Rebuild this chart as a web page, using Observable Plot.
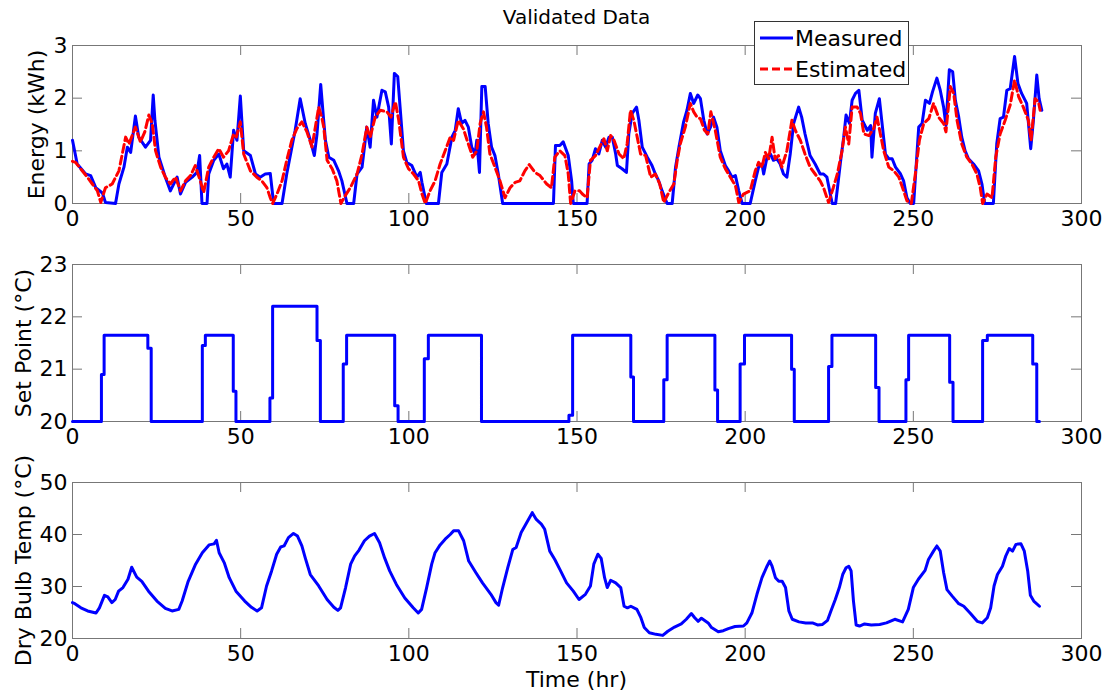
<!DOCTYPE html>
<html><head><meta charset="utf-8">
<script src="https://cdn.jsdelivr.net/npm/d3@7"></script>
<script src="https://cdn.jsdelivr.net/npm/@observablehq/plot@0.6"></script>
<style>
body{margin:0;background:#fff;}
#fig{position:relative;width:1110px;height:694px;font-family:"DejaVu Sans",sans-serif;color:#000;overflow:hidden;background:#fff;}
.panel{position:absolute;left:0;}
#title{position:absolute;left:0;width:1153px;top:5px;text-align:center;font-size:20px;}
#xlab{position:absolute;left:0;width:1153px;top:667px;text-align:center;font-size:22px;}
#legend{position:absolute;left:754px;top:21px;width:153px;height:62px;border:1px solid #333;background:#fff;font-size:22px;z-index:5;}
.lrow{position:absolute;left:4px;height:28px;display:flex;align-items:center;}
.lrow span{margin-left:2px;}
</style></head><body><div id="fig">
<div id="title">Validated Data</div>
<div id="xlab">Time (hr)</div>
<div id="legend">
<div class="lrow" style="top:2px"><svg width="34" height="10"><line x1="1" y1="5" x2="34" y2="5" stroke="#0000ff" stroke-width="3"/></svg><span>Measured</span></div>
<div class="lrow" style="top:33px"><svg width="34" height="10"><line x1="1" y1="5" x2="34" y2="5" stroke="#ff0000" stroke-width="3" stroke-dasharray="8,4"/></svg><span>Estimated</span></div>
</div>
</div>
<script>
const xTicks = [0, 50, 100, 150, 200, 250, 300];
const energyTicks = [0, 1, 2, 3];
const setTicks = [20, 21, 22, 23];
const tempTicks = [20, 30, 40, 50];

// [time (hr), energy (kWh)]
const measured = [[0,1.2],[1.4,0.75],[3.9,0.56],[5.4,0.53],[6.9,0.3],[8.9,0.2],[9.8,0.02],[12.8,0],[13.8,0.37],[15.3,0.69],[16.3,1.07],[17.3,0.97],[18.7,1.66],[19.7,1.26],[21.7,1.07],[23.2,1.2],[24,2.06],[24.5,1.58],[25.7,0.88],[27.6,0.5],[29.1,0.24],[31.1,0.5],[32.1,0.18],[33.6,0.4],[35.6,0.5],[37,0.59],[37.8,0.91],[38.5,0],[40,0],[40.5,0.56],[42,0.82],[43.5,0.94],[44.9,0.66],[45.9,0.75],[46.9,0.5],[47.9,1.39],[48.9,1.2],[49.9,2.04],[50.9,1.0],[52.9,0.91],[54.4,0.56],[55.8,0.5],[57.3,0.56],[58.8,0.57],[59.8,0],[62.3,0],[63.7,0.56],[66.2,1.39],[67.7,1.99],[69.2,1.52],[70.7,1.2],[71.9,0.91],[72.7,1.32],[73.8,2.26],[74.6,1.64],[75.2,1.2],[76.2,0.88],[77.7,0.82],[79.1,0.62],[80.1,0.43],[81.6,0],[83.6,0],[84.6,0.56],[86.1,0.69],[87.5,1.45],[88.5,1.07],[89.5,1.96],[90.5,1.64],[92,2.15],[93,2.12],[94,1.83],[94.8,1.13],[95.7,2.47],[96.7,2.41],[97.4,1.83],[98.4,1.0],[99.4,0.78],[100.9,0.72],[102.4,0.5],[103.4,0.59],[103.9,0.4],[105.2,0],[108.8,0],[109.8,0.59],[111.3,0.75],[112.8,1.26],[113.8,1.39],[114.7,1.8],[115.7,1.52],[116.7,1.58],[117.7,1.45],[118.7,1.07],[119.7,0.94],[120.2,1.2],[121,0.59],[121.7,2.22],[122.7,2.22],[123.6,1.52],[124.6,1.07],[125.6,0.91],[126.6,0.56],[127.9,0],[143,0],[143.6,1.1],[144.9,1.1],[145.9,1.17],[147.4,0.91],[148.4,0.43],[148.9,0],[153,0],[153.6,0.75],[154.5,0.82],[155.5,1.04],[156.5,0.94],[157.5,1.2],[158.5,1.07],[159.5,1.26],[160.5,1.26],[161.5,0.94],[162,0.72],[163.4,0.66],[164.7,0.59],[165.4,1.32],[166.4,1.71],[167.7,1.83],[168.4,1.58],[169.4,1.07],[170.9,0.88],[172.3,0.72],[173.3,0.56],[174.3,0.43],[175.3,0.24],[176.8,0],[178.3,0],[179.3,0.69],[180.3,1.07],[181.7,1.55],[182.7,1.77],[183.7,2.09],[184.7,1.9],[185.9,2.06],[186.7,1.99],[187.7,1.58],[188.7,1.32],[189.7,1.45],[190.6,1.64],[191.6,1.45],[192.6,1.0],[194.1,0.72],[195.1,0.62],[196.1,0.5],[197.1,0.53],[198.1,0.24],[199.1,0],[201.5,0],[203,0.43],[204,0.69],[205,0.75],[205.5,0.56],[206.5,0.88],[207.5,0.94],[208.4,0.82],[209.4,0.85],[210.4,0.75],[211.4,0.56],[212.4,0.5],[213.4,0.94],[214.4,1.52],[215.9,1.83],[216.8,1.64],[217.8,1.32],[219.3,0.91],[220.8,0.75],[222.3,0.56],[223.3,0.56],[224.3,0.5],[225.3,0.18],[225.9,0],[226.9,0],[228.4,0.82],[229.3,1.26],[230,1.68],[231,1.52],[231.8,1.96],[232.8,2.09],[233.8,2.15],[234.8,1.58],[236.3,1.39],[237.3,1.48],[237.7,0.88],[238.7,1.71],[239.9,1.99],[240.7,1.52],[241.7,0.94],[242.7,0.85],[243.7,0.85],[244.7,0.69],[246.2,0.56],[247.1,0.43],[248.1,0.11],[249.1,0],[250.1,0],[251.6,1.45],[252.6,1.52],[253.6,1.96],[254.8,1.9],[255.7,2.12],[257,2.38],[258,2.15],[259,1.83],[259.7,1.48],[260.7,2.54],[261.7,2.5],[262.5,1.96],[263.5,1.64],[264.4,1.26],[265.4,1.0],[266.4,0.85],[267.9,0.75],[269.4,0.62],[270.4,0.37],[271.2,0],[273.8,0],[274.8,1.13],[275.8,1.61],[276.8,1.64],[277.8,2.15],[278.8,2.18],[280.1,2.79],[281.1,2.28],[282.2,2.09],[283.7,1.9],[284.9,1.04],[285.7,1.58],[286.7,2.44],[287.4,1.99],[288.2,1.77]];

// [time (hr), energy (kWh)]
const estimated = [[0,0.8],[0.9,0.78],[2.4,0.66],[4.4,0.5],[5.9,0.37],[7.4,0.24],[8.4,0.02],[9.8,0.3],[11.8,0.37],[13.8,0.62],[15.8,1.26],[16.8,1.13],[18.7,1.45],[20.2,1.17],[21.5,1.36],[22.7,1.68],[23.7,1.52],[24.7,1.0],[26.2,0.69],[27.6,0.5],[29.1,0.37],[30.6,0.5],[32.1,0.24],[33.6,0.43],[35.1,0.53],[36.5,0.72],[38,0.43],[39,0.21],[40.5,0.69],[42,0.88],[43.5,1.04],[44.9,0.88],[46.4,1.0],[47.9,1.32],[48.7,1.26],[49.9,1.55],[50.9,0.94],[52.9,0.62],[54.8,0.5],[56.3,0.43],[57.8,0.3],[58.8,0.11],[59.5,0],[60.8,0.18],[62.3,0.43],[63.7,0.82],[65.2,1.2],[66.7,1.42],[68.2,1.55],[69.7,1.36],[71.2,1.07],[72.2,1.45],[73.2,1.83],[74.1,1.64],[74.7,1.45],[75.7,0.82],[77.2,0.66],[78.6,0.43],[79.8,0],[81.1,0.15],[82.6,0.3],[84.6,0.56],[86.1,0.94],[87.5,1.45],[88.5,1.26],[90,1.64],[91.5,1.77],[93.5,1.74],[94.7,1.64],[96,1.93],[97,1.58],[98.4,0.88],[99.9,0.66],[101.4,0.56],[102.9,0.43],[103.9,0.18],[104.9,0],[106.3,0.24],[107.8,0.43],[109.3,0.75],[110.8,1.0],[112.3,1.26],[113.3,1.2],[114.7,1.58],[116.2,1.42],[117.7,1.13],[119,0.88],[120.2,1.0],[121.2,1.52],[122.2,1.74],[123.1,1.45],[124.1,0.94],[125.6,0.69],[127.1,0.43],[128.6,0.11],[130.1,0.3],[131.6,0.4],[133,0.43],[134.5,0.62],[135.8,0.74],[137.5,0.59],[139,0.53],[141,0.37],[142.4,0.3],[143.4,0.88],[144.9,1.0],[146.4,0.91],[147.4,0.56],[148.1,0],[149.4,0.24],[150.8,0.24],[151.6,0.18],[153,0.11],[154,0.82],[155.5,0.91],[156.5,1.04],[158,1.23],[159,1.0],[160,1.29],[161,1.2],[162.5,0.94],[163.9,0.85],[164.9,1.13],[165.9,1.77],[166.9,1.58],[167.9,1.26],[168.9,0.94],[170.4,0.91],[171.9,0.5],[173.3,0.56],[174.6,0.37],[175.8,0.02],[177.3,0.21],[178.8,0.37],[179.8,0.82],[180.7,1.13],[182.2,1.45],[183.7,1.9],[184.7,1.74],[185.7,1.64],[186.7,1.61],[187.9,1.39],[188.9,1.32],[189.8,1.74],[191.1,1.39],[192.6,0.88],[194.1,0.66],[195.6,0.5],[197.1,0.34],[198.1,0.02],[199.5,0.18],[201.5,0.24],[203,0.62],[204,0.78],[205,0.69],[206,0.97],[207,0.85],[208,1.26],[208.9,0.85],[209.9,0.91],[210.9,0.69],[212.4,1.0],[213.9,1.58],[214.9,1.39],[216.4,1.2],[217.8,0.94],[219.3,0.69],[220.8,0.56],[222.3,0.43],[223.3,0.3],[224.8,0.02],[226.2,0.3],[227.4,0.56],[228.8,1.0],[229.8,1.45],[230.8,1.13],[231.8,1.83],[233.3,1.83],[234.3,1.71],[235.3,1.32],[236.8,1.29],[238.2,1.42],[239.2,1.64],[240.2,1.32],[241.2,1.0],[242.7,0.69],[244.2,0.62],[245.7,0.5],[246.8,0.3],[248.1,0.05],[249.4,0],[250.6,0.56],[251.8,1.2],[253.1,1.52],[254.6,1.61],[256,1.9],[257.5,1.64],[259,1.52],[259.7,1.36],[261,2.22],[262,2.09],[263,1.58],[264.4,1.13],[265.9,0.88],[267.4,0.75],[268.9,0.56],[269.9,0.3],[270.6,0],[271.9,0.18],[273.4,0.11],[274.5,0.88],[275.8,1.32],[277.3,1.58],[278.8,1.87],[280.1,2.34],[281.3,2.03],[282.7,1.83],[284.2,1.58],[285,1.2],[286.2,1.99],[287.2,1.93],[287.7,1.77]];

// [time (hr), set point (°C)] — value holds from this time on
const setPoint = [[0,20],[8.6,20.9],[9.4,21.65],[22.4,21.4],[23.4,20],[38.6,21.45],[39.5,21.65],[47.8,20.58],[48.6,20],[58.7,20.45],[59.5,22.2],[72.7,21.55],[73.7,20],[80.5,21.1],[81.5,21.65],[95.8,20.3],[96.8,20],[104.6,21.2],[105.8,21.65],[121.6,20],[147.6,20.12],[148.7,21.65],[166,20.85],[166.8,20],[175.8,20.8],[176.8,21.65],[191,20.6],[191.8,20],[198.5,21.1],[199.8,21.65],[213.8,21.0],[214.6,20],[224.8,21.05],[225.8,21.65],[238.8,20.65],[239.8,20],[247.8,20.8],[248.6,21.65],[260.8,20.75],[261.8,20],[270.6,21.55],[272,21.65],[285.5,21.1],[286.7,20],[287.5,20]];

// [time (hr), dry bulb temperature (°C)]
const dryBulb = [[0,26.9],[0.7,26.7],[2.5,25.9],[4.5,25.3],[7,24.9],[8,25.9],[9.5,28.3],[10.5,28.0],[11.7,26.9],[12.7,27.5],[13.7,29.1],[15,29.8],[16.5,31.4],[17.6,33.7],[19.1,31.8],[20.6,31.0],[22.6,29.1],[25.1,27.2],[27.6,25.8],[29.6,25.3],[31.6,25.6],[32.6,27.2],[34.4,31.0],[36.6,34.3],[38.6,36.5],[40.6,38.0],[42.1,38.2],[42.8,38.9],[43.6,36.5],[45.1,34.6],[46.6,31.7],[48.6,29.1],[51.2,27.2],[53.2,26.0],[54.9,25.3],[56.2,25.9],[57.7,30.1],[59.2,33.0],[60.7,36.2],[61.9,37.6],[62.9,37.8],[64.2,39.4],[65.7,40.2],[66.9,39.7],[68.2,37.8],[69.2,35.5],[70.7,32.3],[73.2,30.1],[75.7,27.5],[77.7,26.0],[78.9,25.4],[79.7,25.9],[81.2,29.8],[82.7,34.3],[83.9,35.9],[85.2,37.0],[86.8,38.8],[88.3,39.7],[89.8,40.2],[91.3,38.4],[92.8,35.5],[94.3,33.0],[96.3,30.4],[98.8,27.8],[101.3,25.9],[102.8,24.9],[103.8,25.6],[105.3,29.8],[106.8,34.3],[107.8,36.5],[109.3,38.0],[110.8,39.1],[112.3,40.0],[113.3,40.7],[114.8,40.7],[116.3,38.8],[117.8,34.9],[119.9,32.7],[121.9,30.7],[124.4,28.5],[125.9,26.9],[126.7,26.4],[127.9,29.8],[129.4,33.6],[130.9,37.1],[131.9,37.5],[133.4,40.4],[135.4,42.7],[136.7,44.2],[137.9,42.9],[139.4,42.0],[140.4,41.0],[141.9,36.8],[143.4,35.2],[144.9,33.3],[146.9,30.7],[148.9,29.1],[150.6,27.5],[152.5,28.5],[154,30.1],[155,34.3],[156.2,36.2],[157.2,35.4],[158.2,31.7],[159,29.8],[160,31.2],[161.5,30.7],[163,29.8],[164,26.2],[165,25.9],[166,26.2],[167.8,25.6],[169,24.0],[170,22.1],[171.5,21.1],[173.5,20.8],[175.5,20.6],[177,21.4],[179,22.2],[181,22.8],[182.5,23.7],[184,24.8],[185,24.0],[186,23.3],[187,23.9],[189,23.0],[190,22.1],[192,21.3],[193.5,21.5],[195,21.9],[197,22.3],[199.5,22.4],[200.5,23.0],[202,24.9],[203.5,28.5],[205,31.7],[206.5,33.9],[207.3,34.9],[208,33.9],[209,31.7],[210,31.0],[211,31.0],[212,29.8],[213,25.3],[214,23.7],[216,23.2],[218,23.0],[220,23.0],[221.5,22.6],[223,22.7],[224.5,23.5],[225.5,25.3],[226.8,27.5],[228,29.8],[229,32.3],[230,33.6],[230.8,33.9],[231.5,33.0],[232.2,27.2],[233,22.6],[234,22.4],[235.5,22.8],[237.5,22.6],[240,22.7],[242,23.0],[244.5,23.7],[246.8,23.2],[248.5,25.6],[250,29.8],[251.5,31.4],[253.5,33.1],[254.5,35.2],[256,36.8],[257,37.8],[258,36.8],[259,32.7],[260,29.4],[261.5,28.2],[263.5,26.7],[265,26.2],[267,24.8],[269,23.3],[270.5,23.0],[272,24.0],[273,25.9],[274,30.1],[275,32.3],[276.5,33.9],[277.5,35.9],[278.5,37.3],[279.5,36.8],[280.5,38.1],[282,38.2],[283,36.8],[284,33.0],[284.8,28.3],[285.8,27.2],[287.5,26.2]];

const W = 1110, ML = 72, MR = 29;
const PW = W - ML - MR;
const FRAME = "#777";
const BLUE = "#0000ff", RED = "#ff0000";
const fmt = d => String(d);

function panel({top, height, mt, mb, yDomain, yTicks, label, labelDx, lines}) {
  const ph = height - mt - mb;
  const p = Plot.plot({
    width: W, height, marginLeft: ML, marginRight: MR, marginTop: mt, marginBottom: mb,
    style: {fontFamily: "DejaVu Sans", fontSize: "22px", color: "#000", background: "transparent", overflow: "visible"},
    x: {domain: [0, 300]},
    y: {domain: yDomain},
    marks: [
      Plot.axisX(xTicks, {tickSize: 0, tickPadding: 7, label: null, fontSize: 22, tickFormat: fmt}),
      Plot.axisY(yTicks, {tickSize: 0, tickPadding: 5, label: null, fontSize: 22, tickFormat: fmt}),
      Plot.tickX(xTicks, {x: d => d, insetBottom: ph - 10, stroke: FRAME}),
      Plot.tickX(xTicks, {x: d => d, insetTop: ph - 10, stroke: FRAME}),
      Plot.tickY(yTicks, {y: d => d, insetRight: PW - 10, stroke: FRAME}),
      Plot.tickY(yTicks, {y: d => d, insetLeft: PW - 10, stroke: FRAME}),
      Plot.frame({stroke: FRAME}),
      ...lines,
      Plot.text([label], {frameAnchor: "left", textAnchor: "middle", lineAnchor: "middle", rotate: -90, dx: labelDx, fontSize: 22, fill: "#000"})
    ]
  });
  p.classList.add("panel");
  p.style.top = top + "px";
  return p;
}

const fig = document.getElementById("fig");
const leg = document.getElementById("legend");

fig.insertBefore(panel({
  top: 0, height: 235, mt: 45, mb: 32, yDomain: [0, 3], yTicks: energyTicks,
  label: "Energy (kWh)", labelDx: -36,
  lines: [
    Plot.line(measured, {x: d => d[0], y: d => d[1], stroke: BLUE, strokeWidth: 3}),
    Plot.line(estimated, {x: d => d[0], y: d => d[1], stroke: RED, strokeWidth: 3, strokeDasharray: "8,4"})
  ]
}), leg);

fig.insertBefore(panel({
  top: 235, height: 219, mt: 29, mb: 33, yDomain: [20, 23], yTicks: setTicks,
  label: "Set Point (°C)", labelDx: -49,
  lines: [
    Plot.line(setPoint, {x: d => d[0], y: d => d[1], curve: "step-after", stroke: BLUE, strokeWidth: 3})
  ]
}), leg);

fig.insertBefore(panel({
  top: 454, height: 240, mt: 28, mb: 56, yDomain: [20, 50], yTicks: tempTicks,
  label: "Dry Bulb Temp (°C)", labelDx: -49,
  lines: [
    Plot.line(dryBulb, {x: d => d[0], y: d => d[1], stroke: BLUE, strokeWidth: 3})
  ]
}), leg);
</script></body></html>
